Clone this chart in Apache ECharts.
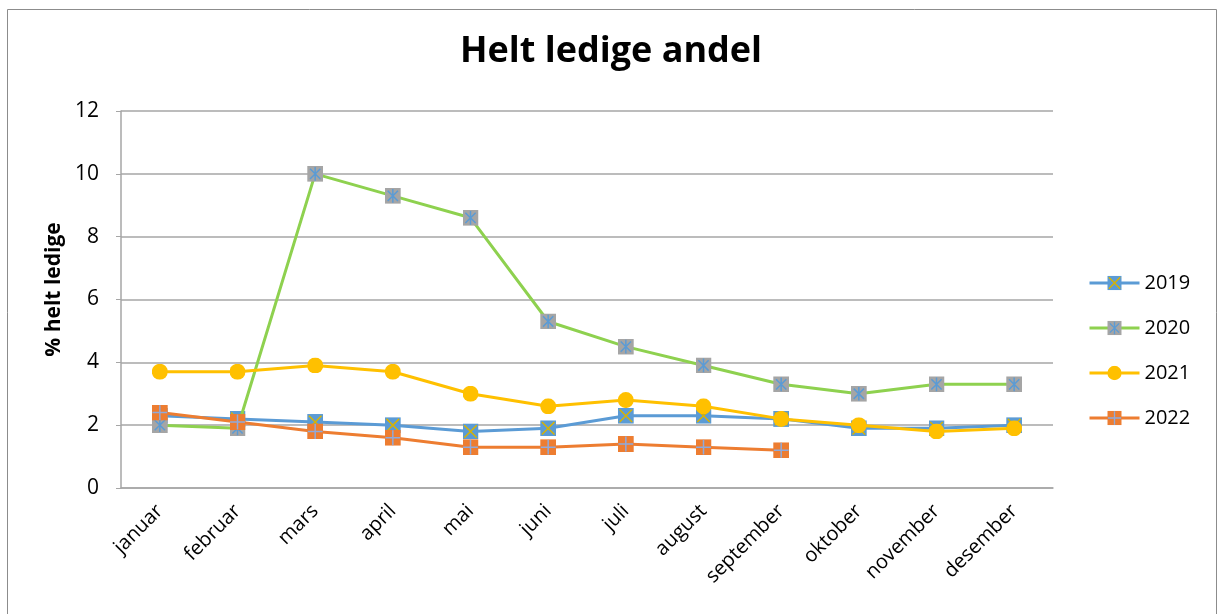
<!DOCTYPE html>
<html>
<head>
<meta charset="utf-8">
<script src="https://cdn.jsdelivr.net/npm/echarts@6/dist/echarts.min.js"></script>
<style>html,body{margin:0;padding:0;background:#fff;}#c{width:1222px;height:614px;}</style>
</head>
<body>
<div id="c"></div>
<script>
const months = ['januar','februar','mars','april','mai','juni','juli','august','september','oktober','november','desember'];
const yTicks = [0, 2, 4, 6, 8, 10, 12];
const s2019 = [2.3, 2.2, 2.1, 2.0, 1.8, 1.9, 2.3, 2.3, 2.2, 1.9, 1.9, 2.0];
const s2020 = [2.0, 1.9, 10.0, 9.3, 8.6, 5.3, 4.5, 3.9, 3.3, 3.0, 3.3, 3.3];
const s2021 = [3.7, 3.7, 3.9, 3.7, 3.0, 2.6, 2.8, 2.6, 2.2, 2.0, 1.8, 1.9];
const s2022 = [2.4, 2.1, 1.8, 1.6, 1.3, 1.3, 1.4, 1.3, 1.2];
const names = ['2019','2020','2021','2022'];

const FONT = 'Open Sans';
function img(svg){ return 'image://data:image/svg+xml;charset=utf-8,' + encodeURIComponent(svg); }
const sym2019 = img("<svg xmlns='http://www.w3.org/2000/svg' width='28' height='28' viewBox='0 0 14 14'><rect x='0' y='0' width='14' height='14' fill='#5B9BD5'/><path d='M1.5 1.5L12.5 12.5M12.5 1.5L1.5 12.5' stroke='#D9B300' stroke-width='1.3' fill='none'/></svg>");
const sym2020 = img("<svg xmlns='http://www.w3.org/2000/svg' width='28' height='28' viewBox='0 0 14 14'><rect x='0' y='0' width='14' height='14' fill='#A5A5A5'/><path d='M7 1L7 13M2.5 2.5L11.5 11.5M11.5 2.5L2.5 11.5' stroke='#5B9BD5' stroke-width='1.3' fill='none'/></svg>");
const sym2021 = img("<svg xmlns='http://www.w3.org/2000/svg' width='28' height='28' viewBox='0 0 14 14'><circle cx='7' cy='7' r='7' fill='#FFC000'/></svg>");
const sym2022 = img("<svg xmlns='http://www.w3.org/2000/svg' width='28' height='28' viewBox='0 0 14 14'><rect x='0' y='0' width='14' height='14' fill='#ED7D31'/><path d='M7 0.5L7 13.5M0.5 7L13.5 7' stroke='#8FAADC' stroke-width='1.3' fill='none'/></svg>");

const colors = ['#5B9BD5', '#8ED14F', '#FFC000', '#ED7D31'];
const symbols = [sym2019, sym2020, sym2021, sym2022];
const datas = [s2019, s2020, s2021, s2022];

const chart = echarts.init(document.getElementById('c'), null, {renderer: 'canvas'});
chart.setOption({
  animation: false,
  backgroundColor: '#fff',
  title: {
    text: 'Helt ledige andel',
    left: 'center', top: 29,
    textStyle: {fontFamily: FONT, fontWeight: 'bold', fontSize: 36, color: '#000'}
  },
  graphic: [{
    type: 'rect', silent: true,
    shape: {x: 7.5, y: 9.5, width: 1209, height: 640},
    style: {fill: 'none', stroke: '#8C8C8C', lineWidth: 1}
  }],
  legend: {
    orient: 'vertical', left: 1088, top: 273, padding: 0,
    itemWidth: 50, itemHeight: 18, itemGap: 25,
    lineStyle: {width: 3},
    textStyle: {fontFamily: FONT, fontSize: 20, color: '#000'},
    data: names
  },
  grid: {left: 121, right: 169, top: 111, bottom: 126, containLabel: false},
  xAxis: {
    type: 'category', data: months, boundaryGap: true,
    axisLine: {lineStyle: {color: '#A6A6A6', width: 1.5}},
    axisTick: {show: false},
    axisLabel: {rotate: 45, margin: 20, fontFamily: FONT, fontSize: 20, color: '#000', interval: 0}
  },
  yAxis: {
    type: 'value', min: yTicks[0], max: yTicks[yTicks.length-1], interval: 2,
    name: '% helt ledige', nameLocation: 'middle', nameRotate: 90, nameGap: 53,
    nameTextStyle: {fontFamily: FONT, fontWeight: 'bold', fontSize: 21, color: '#000', padding: [0, 0, 0, 20]},
    axisLine: {show: true, lineStyle: {color: '#A6A6A6', width: 1.5}},
    axisTick: {show: true, length: 5, lineStyle: {color: '#A6A6A6'}},
    axisLabel: {margin: 22, fontFamily: FONT, fontSize: 21, color: '#000'},
    splitLine: {lineStyle: {color: '#A6A6A6', width: 1.5}}
  },
  series: datas.map((d, i) => ({
    name: names[i], type: 'line', data: d,
    symbol: symbols[i], symbolSize: 16, showAllSymbol: true,
    itemStyle: {color: colors[i]},
    lineStyle: {color: colors[i], width: 3},
    z: 2 + i
  }))
});
</script>
</body>
</html>
